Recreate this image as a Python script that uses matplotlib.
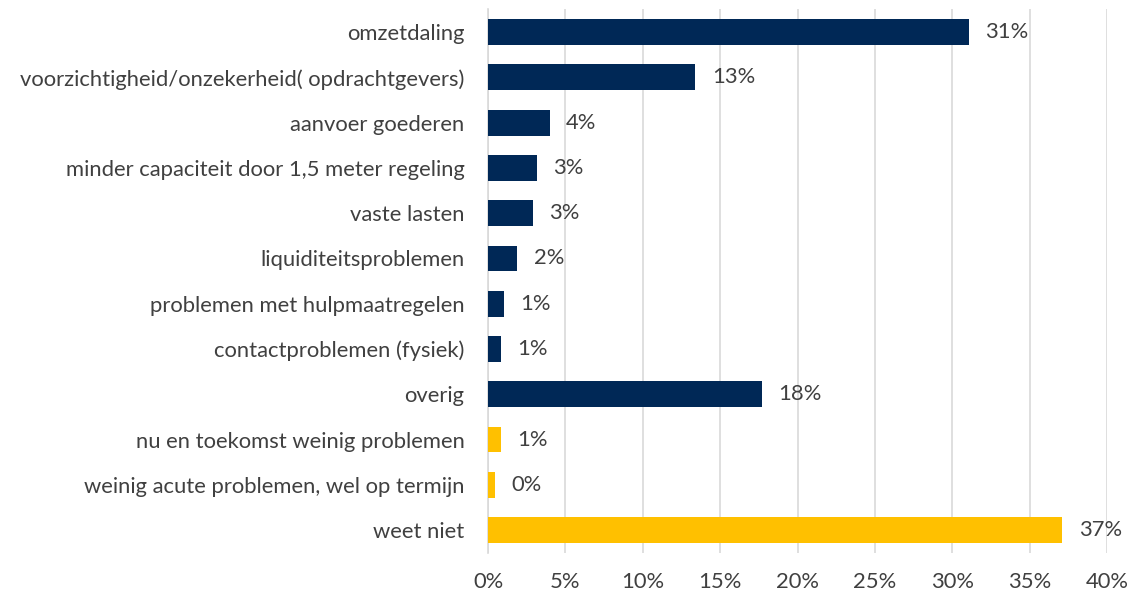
import matplotlib.pyplot as plt
from matplotlib.ticker import FuncFormatter

categorieen = [
    'omzetdaling',
    'voorzichtigheid/onzekerheid( opdrachtgevers)',
    'aanvoer goederen',
    'minder capaciteit door 1,5 meter regeling',
    'vaste lasten',
    'liquiditeitsproblemen',
    'problemen met hulpmaatregelen',
    'contactproblemen (fysiek)',
    'overig',
    'nu en toekomst weinig problemen',
    'weinig acute problemen, wel op termijn',
    'weet niet',
]
waarden = [31.05, 13.4, 4.0, 3.14, 2.88, 1.9, 1.03, 0.82, 17.7, 0.84, 0.45, 37.1]
labels = ['31%', '13%', '4%', '3%', '3%', '2%', '1%', '1%', '18%', '1%', '0%', '37%']
groep = ['p'] * 9 + ['g'] * 3

kleuren = {'p': '#002856', 'g': '#FFC000'}

plt.rcParams['font.family'] = ['Lato', 'DejaVu Sans']
fs = 15.8

fig = plt.figure(figsize=(11.3, 5.93), dpi=100)
fig.patch.set_facecolor('white')
ax = fig.add_axes([0.4319, 0.068, 0.548, 0.916])

y = list(range(len(categorieen)))
ax.barh(y, waarden, height=0.57, color=[kleuren[g] for g in groep], zorder=3)

for yi, v, lab in zip(y, waarden, labels):
    ax.text(v + 1.05, yi, lab, va='center', ha='left', fontsize=fs, color='#404040')

ax.set_xlim(0, 40)
ax.set_ylim(len(categorieen) - 0.5, -0.5)
ax.set_xticks(range(0, 41, 5))
ax.xaxis.set_major_formatter(FuncFormatter(lambda x, p: f'{x:.0f}%'))
ax.set_yticks(y)
ax.set_yticklabels(categorieen)

ax.tick_params(axis='both', length=0, labelsize=fs, labelcolor='#404040')
ax.tick_params(axis='y', pad=17)
ax.tick_params(axis='x', pad=14)
ax.grid(axis='x', color='#d9d9d9', linewidth=1.2, zorder=0)

for s in ['top', 'right', 'bottom']:
    ax.spines[s].set_visible(False)
ax.spines['left'].set_color('#d9d9d9')
ax.spines['left'].set_linewidth(1.2)

plt.savefig('out.png', dpi=100)
